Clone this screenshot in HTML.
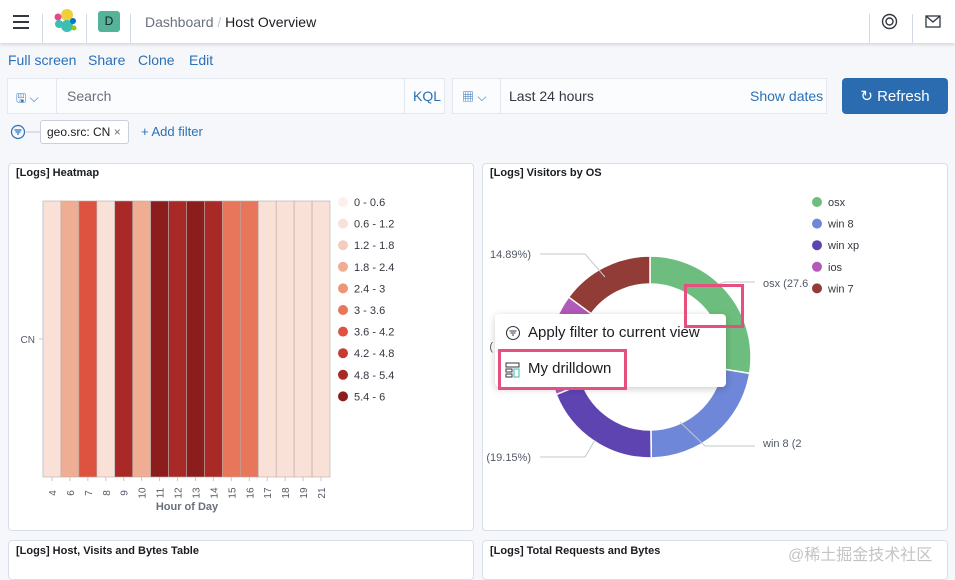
<!DOCTYPE html>
<html><head><meta charset="utf-8">
<style>
*{box-sizing:border-box;margin:0;padding:0}
body{width:955px;height:566px;overflow:hidden;background:#f5f7fa;font-family:"Liberation Sans","Noto Sans CJK SC",sans-serif;position:relative;color:#343741}
.abs{position:absolute}
.hdr{left:0;top:0;width:955px;height:43px;background:#fff;box-shadow:0 2px 3px rgba(0,0,0,.12)}
.sep{width:1px;background:#d3dae6;top:14px;height:29px}
.link{color:#2b70b8;font-size:14px}
.card{background:#fff;border:1px solid #d8dfe8;border-radius:4px}
.title{font-size:11px;font-weight:bold;color:#1a1c21}
</style></head><body>
<div class="abs hdr"></div>
<div class="abs" style="left:13px;top:15px;width:16px">
 <div style="height:2px;background:#343741;margin-bottom:4px"></div><div style="height:2px;background:#343741;margin-bottom:4px"></div><div style="height:2px;background:#343741"></div></div>
<div class="abs sep" style="left:42px"></div>
<svg class="abs" style="left:53px;top:9px" width="25" height="24"><circle cx="14" cy="6" r="6" fill="#f0cf3a"/><circle cx="5" cy="8" r="3.5" fill="#e8488b"/><circle cx="6" cy="15" r="4" fill="#3ebeb0"/><circle cx="14" cy="17" r="6" fill="#3ebeb0"/><circle cx="20" cy="12" r="3" fill="#0077cc"/><circle cx="21" cy="19" r="2.5" fill="#93c90e"/></svg>
<div class="abs sep" style="left:86px"></div>
<div class="abs" style="left:98px;top:11px;width:22px;height:21px;background:#54b399;border-radius:3px;font-size:12px;text-align:center;line-height:21px;color:#1a1c21">D</div>
<div class="abs sep" style="left:130px"></div>
<div class="abs" style="left:145px;top:14px;font-size:14px;color:#69707d"><span>Dashboard</span> <span style="color:#c2c8d0">/</span> <span style="color:#1a1c21">Host Overview</span></div>
<div class="abs sep" style="left:869px"></div>
<svg class="abs" style="left:881px;top:13px" width="17" height="17"><circle cx="8.5" cy="8.5" r="7" fill="none" stroke="#343741" stroke-width="1.4"/><circle cx="8.5" cy="8.5" r="3.5" fill="none" stroke="#343741" stroke-width="1.4"/></svg>
<div class="abs sep" style="left:912px"></div>
<svg class="abs" style="left:925px;top:15px" width="16" height="13"><rect x="1" y="1" width="14" height="11" fill="none" stroke="#343741" stroke-width="1.3"/><path d="M1 1L8 7L15 1" fill="none" stroke="#343741" stroke-width="1.3"/></svg>

<div class="abs link" style="left:8px;top:52px">Full screen</div>
<div class="abs link" style="left:88px;top:52px">Share</div>
<div class="abs link" style="left:138px;top:52px">Clone</div>
<div class="abs link" style="left:189px;top:52px">Edit</div>

<div class="abs" style="left:7px;top:78px;width:438px;height:36px;background:#fbfcfd;border:1px solid #e3e8f0"></div>
<div class="abs" style="left:56px;top:78px;width:1px;height:36px;background:#e3e8f0"></div>
<div class="abs" style="left:404px;top:78px;width:1px;height:36px;background:#e3e8f0"></div>
<div class="abs" style="left:16px;top:89px;font-size:12px;color:#2b70b8">🖫 ⌵</div>
<div class="abs" style="left:67px;top:88px;font-size:14px;color:#69707d">Search</div>
<div class="abs link" style="left:413px;top:88px">KQL</div>
<div class="abs" style="left:452px;top:78px;width:375px;height:36px;background:#fbfcfd;border:1px solid #e3e8f0"></div>
<div class="abs" style="left:500px;top:78px;width:1px;height:36px;background:#e3e8f0"></div>
<div class="abs" style="left:462px;top:88px;font-size:12px;color:#2b70b8">▦ ⌵</div>
<div class="abs" style="left:509px;top:88px;font-size:14px;color:#343741">Last 24 hours</div>
<div class="abs link" style="left:750px;top:88px">Show dates</div>
<div class="abs" style="left:842px;top:78px;width:106px;height:36px;background:#2b6cb0;border-radius:4px;color:#fff;font-size:15px;line-height:37px;text-align:center">↻ Refresh</div>

<svg class="abs" style="left:10px;top:124px" width="30" height="16"><circle cx="8" cy="8" r="6.5" fill="none" stroke="#2b70b8" stroke-width="1.2"/><path d="M4.5 6h7M5.5 8h5M7 10h2" stroke="#2b70b8" stroke-width="1.2"/><path d="M16 8h14" stroke="#c2c8d0"/></svg>
<div class="abs" style="left:40px;top:120px;width:89px;height:24px;background:#fff;border:1px solid #c9d0da;border-radius:3px;font-size:12px;line-height:22px;padding-left:6px;color:#1a1c21">geo.src: CN <span style="color:#69707d">×</span></div>
<div class="abs link" style="left:141px;top:124px;font-size:13px">+ Add filter</div>

<div class="abs card" style="left:8px;top:163px;width:466px;height:368px"></div>
<div class="abs title" style="left:16px;top:167px">[Logs] Heatmap</div>
<div class="abs card" style="left:482px;top:163px;width:466px;height:368px"></div>
<div class="abs title" style="left:490px;top:167px">[Logs] Visitors by OS</div>
<div class="abs card" style="left:8px;top:540px;width:466px;height:40px"></div>
<div class="abs title" style="left:16px;top:545px">[Logs] Host, Visits and Bytes Table</div>
<div class="abs card" style="left:482px;top:540px;width:466px;height:40px"></div>
<div class="abs title" style="left:490px;top:545px">[Logs] Total Requests and Bytes</div>
<div class="abs" style="left:788px;top:541px;font-size:16px;color:#c4c4c4">@稀土掘金技术社区</div>

<svg class="abs" id="hm" style="left:0;top:0" width="480" height="520"></svg>
<svg class="abs" id="pie" style="left:480px;top:160px" width="475" height="330"></svg>

<div class="abs" style="left:495px;top:314px;width:231px;height:73px;background:#fff;border-radius:4px;box-shadow:0 2px 8px rgba(0,0,0,.2)"></div>
<svg class="abs" style="left:505px;top:325px" width="16" height="16"><circle cx="8" cy="8" r="6.5" fill="none" stroke="#343741" stroke-width="1.1"/><path d="M4.5 6h7M5.5 8h5M7 10h2" stroke="#343741" stroke-width="1.1"/></svg>
<div class="abs" style="left:528px;top:324px;font-size:15px;color:#1a1c21">Apply filter to current view</div>
<div class="abs" style="left:498px;top:349px;width:129px;height:41px;border:3px solid #e6507e"></div>
<svg class="abs" style="left:505px;top:362px" width="16" height="16"><rect x="1" y="1" width="13" height="4" fill="none" stroke="#343741"/><rect x="1" y="7" width="6" height="3" fill="none" stroke="#343741"/><rect x="1" y="12" width="6" height="3" fill="none" stroke="#343741"/><rect x="9" y="7" width="5" height="8" fill="none" stroke="#3ebeb0"/></svg>
<div class="abs" style="left:528px;top:360px;font-size:15px;color:#1a1c21">My drilldown</div>
<div class="abs" style="left:684px;top:284px;width:60px;height:44px;border:3px solid #e6507e"></div>

<script>
const hours=["4","6","7","8","9","10","11","12","13","14","15","16","17","18","19","21"];
const counts=[0.8,2.0,3.9,0.8,5.0,2.0,5.7,5.0,5.7,5.0,3.3,3.3,0.8,0.8,0.8,0.8];
const legendLabels=["0 - 0.6","0.6 - 1.2","1.2 - 1.8","1.8 - 2.4","2.4 - 3","3 - 3.6","3.6 - 4.2","4.2 - 4.8","4.8 - 5.4","5.4 - 6"];
const legendColors=["#fcf0ec","#f9e1d8","#f5cdbd","#efae93","#ec9676","#e8765a","#de5240","#c93a31","#a82926","#8b1e1d"];
const osNames=["osx","win 8","win xp","ios","win 7"];
const osShares=[27.6,22.2,19.15,16.16,14.89];
const osColors=["#6dbe7e","#6f87d8","#5e44b1","#b15ab7","#913c36"];
const NS="http://www.w3.org/2000/svg";
function mk(svg,t,a,txt){const e=document.createElementNS(NS,t);for(const k in a)e.setAttribute(k,a[k]);if(txt!=null)e.textContent=txt;svg.appendChild(e);return e;}
const hm=document.getElementById('hm');
const X0=43,X1=330,Y0=201,Y1=477;
const cw=(X1-X0)/hours.length;
const xs=i=>X0+i*cw;
const colorFor=v=>legendColors[Math.min(9,Math.floor(v/0.6))];
hours.forEach((h,i)=>{
 const r=mk(hm,'rect',{x:xs(i),y:Y0,width:cw,height:Y1-Y0,fill:colorFor(counts[i]),stroke:'#b8aaa6','stroke-width':0.6});
 
 
 mk(hm,'line',{x1:xs(i)+cw/2,x2:xs(i)+cw/2,y1:Y1,y2:Y1+4,stroke:'#c2c8d0'});
 const t=mk(hm,'text',{x:0,y:0,transform:`translate(${xs(i)+cw/2+4},${Y1+16}) rotate(-90)`,'font-size':10,fill:'#535966','text-anchor':'middle'},h);
 
 
});
mk(hm,'line',{x1:X0,x2:X0,y1:Y0,y2:Y1,stroke:'#c2c8d0'});
mk(hm,'line',{x1:X0-4,x2:X0,y1:(Y0+Y1)/2,y2:(Y0+Y1)/2,stroke:'#c2c8d0'});
const yl=mk(hm,'text',{x:35,y:(Y0+Y1)/2+4,'font-size':10,fill:'#535966','text-anchor':'end'},'CN');


const xt=mk(hm,'text',{x:187,y:510,'font-size':11,'font-weight':'bold',fill:'#69707d','text-anchor':'middle'},'Hour of Day');


legendLabels.forEach((l,i)=>{
 const y=201+i*21.6;
 const g=mk(hm,'g',{});
 
 
 mk(g,'circle',{cx:343,cy:y+1,r:5,fill:legendColors[i]});
 mk(g,'text',{x:354,y:y+5,'font-size':11,fill:'#343741'},l);
});
const pie=document.getElementById('pie');
const cx=170,cy=197,R=101,r0=73;
const tot=osShares.reduce((a,b)=>a+b,0);
let a=0;
const pt=(ang,rr)=>[cx+rr*Math.sin(ang),cy-rr*Math.cos(ang)];
osShares.forEach((s,i)=>{
 const a0=a/tot*2*Math.PI,a1=(a+s)/tot*2*Math.PI;a+=s;
 const lg=a1-a0>Math.PI?1:0;
 const [x0,y0]=pt(a0,R),[x1,y1]=pt(a1,R),[x2,y2]=pt(a1,r0),[x3,y3]=pt(a0,r0);
 const p=mk(pie,'path',{d:`M${x0} ${y0}A${R} ${R} 0 ${lg} 1 ${x1} ${y1}L${x2} ${y2}A${r0} ${r0} 0 ${lg} 0 ${x3} ${y3}Z`,fill:osColors[i],stroke:'#fff','stroke-width':1.5});
 
 
});
// leader lines (label decoration)
mk(pie,'polyline',{points:'232,126 245,122 275,122',fill:'none',stroke:'#c2c8d0'});
mk(pie,'polyline',{points:'200,262 225,286 275,286',fill:'none',stroke:'#c2c8d0'});
mk(pie,'polyline',{points:'115,280 105,297 60,297',fill:'none',stroke:'#c2c8d0'});
mk(pie,'polyline',{points:'125,117 105,94 60,94',fill:'none',stroke:'#c2c8d0'});
const labels=[["osx (27.6",283,127,"start"],["win 8 (2",283,287,"start"],["(19.15%)",51,301,"end"],["(",13,190,"end"],["14.89%)",51,98,"end"]];
labels.forEach(l=>{
 const t=mk(pie,'text',{x:l[1],y:l[2],'font-size':11,fill:'#535966','text-anchor':l[3]},l[0]);
 
 
});
osNames.forEach((n,i)=>{
 const y=41+i*21.6;
 const g=mk(pie,'g',{});
 
 
 mk(g,'circle',{cx:337,cy:y+1,r:5,fill:osColors[i]});
 mk(g,'text',{x:348,y:y+5,'font-size':11,fill:'#343741'},n);
});
</script>
</body></html>
